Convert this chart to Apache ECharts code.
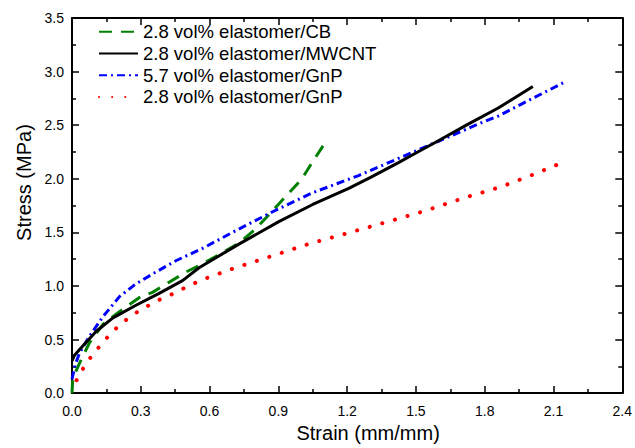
<!DOCTYPE html>
<html>
<head>
<meta charset="utf-8">
<script src="https://cdn.jsdelivr.net/npm/echarts@6/dist/echarts.min.js"></script>
<style>html,body{margin:0;padding:0;background:#fff}#c{width:635px;height:448px}</style>
</head>
<body>
<div id="c"></div>
<script>
var seriesNames = ['2.8 vol% elastomer/CB', '2.8 vol% elastomer/MWCNT', '5.7 vol% elastomer/GnP', '2.8 vol% elastomer/GnP'];
var xTicks = [0, 0.3, 0.6, 0.9, 1.2, 1.5, 1.8, 2.1, 2.4];
var yTicks = [0, 0.5, 1.0, 1.5, 2.0, 2.5, 3.0, 3.5];

var cbStrain = [0, 0.003, 0.012, 0.033, 0.076, 0.134, 0.207, 0.3, 0.351, 0.42, 0.497, 0.554, 0.64, 0.728, 0.8, 0.859, 0.93, 1.003, 1.05, 1.102];
var cbStress = [0, 0.12, 0.18, 0.28, 0.47, 0.64, 0.76, 0.90, 0.94, 1.03, 1.13, 1.19, 1.29, 1.40, 1.53, 1.665, 1.83, 2.0, 2.16, 2.33];

var mwStrain = [0, 0.01, 0.047, 0.105, 0.177, 0.279, 0.38, 0.482, 0.554, 0.728, 0.902, 1.05, 1.207, 1.3, 1.424, 1.5, 1.598, 1.72, 1.859, 2.01];
var mwStress = [0.30, 0.35, 0.44, 0.575, 0.70, 0.82, 0.93, 1.05, 1.17, 1.39, 1.60, 1.76, 1.91, 2.01, 2.15, 2.24, 2.355, 2.50, 2.66, 2.86];

var gnp57Strain = [0, 0.003, 0.015, 0.033, 0.076, 0.134, 0.207, 0.279, 0.366, 0.453, 0.569, 0.7, 0.873, 1.05, 1.25, 1.424, 1.598, 1.772, 1.859, 2.0, 2.156];
var gnp57Stress = [0.13, 0.16, 0.27, 0.376, 0.53, 0.71, 0.90, 1.02, 1.13, 1.235, 1.35, 1.50, 1.69, 1.87, 2.03, 2.19, 2.35, 2.51, 2.585, 2.74, 2.91];

var gnp28Strain = [0.02, 0.054, 0.09, 0.134, 0.17, 0.214, 0.264, 0.32, 0.369, 0.424, 0.475, 0.528, 0.583, 0.7, 0.815, 0.873, 1.03, 1.214, 1.395, 1.54, 1.707, 1.818, 1.873, 2.0, 2.15];
var gnp28Stress = [0.12, 0.25, 0.36, 0.47, 0.56, 0.646, 0.73, 0.80, 0.86, 0.91, 0.965, 1.02, 1.07, 1.16, 1.24, 1.28, 1.39, 1.50, 1.61, 1.70, 1.82, 1.89, 1.926, 2.03, 2.16];

function pairs(xs, ys) { return xs.map(function (x, i) { return [x, ys[i]]; }); }

var FONT = "Arial, 'Liberation Sans', sans-serif";
var chart = echarts.init(document.getElementById('c'), null, { renderer: 'svg' });

function axisCommon(showLabel) {
  return {
    show: true,
    axisLine: { show: true, onZero: false, lineStyle: { color: '#000', width: 2, type: 'solid' } },
    axisTick: { show: true, inside: true, length: 7, lineStyle: { color: '#000', width: 1.5, type: 'solid' } },
    minorTick: { show: true, splitNumber: 2, length: 4, lineStyle: { color: '#000', width: 1.5, type: 'solid' } },
    splitLine: { show: false },
    axisLabel: { show: showLabel, color: '#000', fontSize: 14, fontFamily: FONT, formatter: function (v) { return v.toFixed(1); } }
  };
}

var xMain = Object.assign(axisCommon(true), {
  type: 'value', position: 'bottom', min: xTicks[0], max: xTicks[xTicks.length - 1], interval: 0.3,
  name: 'Strain (mm/mm)', nameLocation: 'middle', nameGap: 29,
  nameTextStyle: { color: '#000', fontSize: 20, fontFamily: FONT, padding: [0, 0, 0, 42] }
});
xMain.axisLabel.margin = 11;
var xTop = Object.assign(axisCommon(false), {
  type: 'value', position: 'top', min: xTicks[0], max: xTicks[xTicks.length - 1], interval: 0.3
});
var yMain = Object.assign(axisCommon(true), {
  type: 'value', position: 'left', min: yTicks[0], max: yTicks[yTicks.length - 1], interval: 0.5,
  name: 'Stress (MPa)', nameLocation: 'middle', nameGap: 36,
  nameTextStyle: { color: '#000', fontSize: 20, fontFamily: FONT, padding: [0, 0, 0, 46] }
});
yMain.axisLabel.margin = 8;
var yRight = Object.assign(axisCommon(false), {
  type: 'value', position: 'right', min: yTicks[0], max: yTicks[yTicks.length - 1], interval: 0.5
});

var styles = [
  { color: '#008000', width: 3, type: [13, 9] },
  { color: '#000000', width: 3, type: 'solid' },
  { color: '#0000ff', width: 3, type: [8, 4, 2, 4] },
  { color: '#ff0000', width: 4, type: [0.1, 13], cap: 'round' }
];
var datas = [pairs(cbStrain, cbStress), pairs(mwStrain, mwStress), pairs(gnp57Strain, gnp57Stress), pairs(gnp28Strain, gnp28Stress)];

chart.setOption({
  animation: false,
  backgroundColor: '#fff',
  grid: { left: 72, top: 18, width: 553, height: 380 },
  legend: {
    orient: 'vertical', left: 98, top: 21, padding: 0, itemWidth: 39, itemHeight: 14, itemGap: 0,
    itemStyle: { opacity: 0 },
    textStyle: { color: '#000', fontSize: 18.5, fontFamily: FONT, lineHeight: 21.7 },
    data: seriesNames
  },
  xAxis: [xMain, xTop],
  yAxis: [yMain, yRight],
  series: seriesNames.map(function (n, i) {
    return {
      name: n, type: 'line', data: datas[i], symbol: 'none',
      xAxisIndex: 0, yAxisIndex: 0, smooth: false,
      lineStyle: styles[i], itemStyle: { color: styles[i].color }, z: [2, 3, 2, 2][i]
    };
  })
});
</script>
</body>
</html>
